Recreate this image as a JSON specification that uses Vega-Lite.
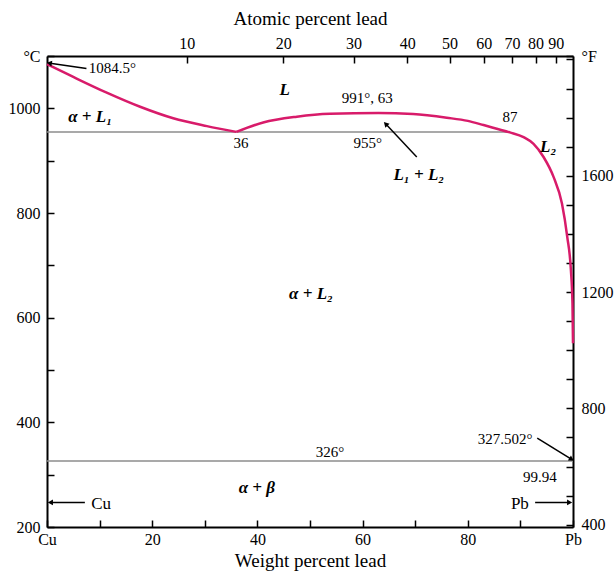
{
  "$schema": "https://vega.github.io/schema/vega-lite/v6.json",
  "width": 526,
  "height": 471,
  "autosize": {"type": "none"},
  "padding": {"left": 47, "top": 56, "right": 41, "bottom": 48},
  "background": "white",
  "config": {
    "view": {"stroke": null},
    "font": "Liberation Serif",
    "axis": {
      "labelFont": "Liberation Serif",
      "titleFont": "Liberation Serif",
      "labelColor": "black",
      "titleColor": "black",
      "domainColor": "black",
      "tickColor": "black",
      "grid": false,
      "labelFontSize": 16,
      "titleFontSize": 19,
      "titleFontWeight": "normal",
      "domainWidth": 2,
      "tickWidth": 1.5,
      "tickSize": -7,
      "labelFlush": false,
      "labelOverlap": false,
      "labelBound": false,
      "format": "d"
    }
  },
  "datasets": {
    "curve": [
      {"seg": "A", "x": 0, "y": 1084.5},
      {"seg": "A", "x": 5, "y": 1060},
      {"seg": "A", "x": 11.35, "y": 1030},
      {"seg": "A", "x": 17.7, "y": 1003},
      {"seg": "A", "x": 24, "y": 981},
      {"seg": "A", "x": 30.4, "y": 966},
      {"seg": "A", "x": 36, "y": 955},
      {"seg": "B", "x": 36, "y": 955},
      {"seg": "B", "x": 41.1, "y": 973},
      {"seg": "B", "x": 47.5, "y": 984},
      {"seg": "B", "x": 53.8, "y": 989.5},
      {"seg": "B", "x": 63, "y": 991},
      {"seg": "B", "x": 69.6, "y": 989},
      {"seg": "B", "x": 76, "y": 982},
      {"seg": "B", "x": 80, "y": 976},
      {"seg": "B", "x": 83, "y": 968},
      {"seg": "B", "x": 85.5, "y": 961},
      {"seg": "B", "x": 88, "y": 954},
      {"seg": "B", "x": 90.6, "y": 945},
      {"seg": "B", "x": 92.5, "y": 932},
      {"seg": "B", "x": 94.4, "y": 907},
      {"seg": "B", "x": 96.3, "y": 869},
      {"seg": "B", "x": 97.9, "y": 818},
      {"seg": "B", "x": 98.9, "y": 755},
      {"seg": "B", "x": 99.6, "y": 691},
      {"seg": "B", "x": 99.9, "y": 628},
      {"seg": "B", "x": 100, "y": 551}
    ],
    "hlines": [
      {"x": 0, "x2": 87.5, "y": 955},
      {"x": 0, "x2": 100, "y": 326}
    ],
    "arrows": [
      {"id": "a1", "end": "tail", "x": 7.5, "y": 1076},
      {"id": "a1", "end": "head", "x": 0.6, "y": 1086},
      {"id": "a2", "end": "tail", "x": 70.3, "y": 907},
      {"id": "a2", "end": "head", "x": 64.5, "y": 969},
      {"id": "a3", "end": "tail", "x": 93.2, "y": 370},
      {"id": "a3", "end": "head", "x": 99.6, "y": 330},
      {"id": "a4", "end": "tail", "x": 7.2, "y": 247},
      {"id": "a4", "end": "head", "x": 0.8, "y": 247},
      {"id": "a5", "end": "tail", "x": 92.8, "y": 247},
      {"id": "a5", "end": "head", "x": 99.2, "y": 247}
    ],
    "plain": [
      {"label": "1084.5°", "x": 12.45, "y": 1077},
      {"label": "991°, 63", "x": 60.9, "y": 1019},
      {"label": "87", "x": 88, "y": 984},
      {"label": "36", "x": 36.9, "y": 933},
      {"label": "955°", "x": 61, "y": 933},
      {"label": "326°", "x": 53.8, "y": 344},
      {"label": "327.502°", "x": 87.1, "y": 369},
      {"label": "99.94", "x": 93.7, "y": 296}
    ],
    "elements": [
      {"label": "Cu", "x": 10.3, "y": 244},
      {"label": "Pb", "x": 89.9, "y": 244}
    ],
    "italic": [
      {"label": "L", "x": 45.2, "y": 1035},
      {"label": "α + L₁", "x": 8.2, "y": 984},
      {"label": "L₁ + L₂", "x": 70.7, "y": 873},
      {"label": "L₂", "x": 95.3, "y": 927},
      {"label": "α + L₂", "x": 50.2, "y": 645},
      {"label": "α + β", "x": 39.9, "y": 275}
    ]
  },
  "layer": [
    {
      "encoding": {
        "x": {
          "field": "x",
          "type": "quantitative",
          "scale": {"domain": [0, 100], "nice": false, "zero": false},
          "axis": {
            "orient": "bottom",
            "title": "Weight percent lead",
            "values": [0, 10, 20, 30, 40, 50, 60, 70, 80, 90, 100],
            "labelExpr": "datum.value == 0 ? 'Cu' : datum.value == 100 ? 'Pb' : datum.value % 20 == 0 ? datum.label : ''",
            "labelPadding": 11,
            "titlePadding": 4
          }
        },
        "y": {
          "field": "y",
          "type": "quantitative",
          "scale": {"domain": [200, 1100], "nice": false, "zero": false},
          "axis": {
            "orient": "left",
            "title": null,
            "values": [200, 300, 400, 500, 600, 700, 800, 900, 1000, 1100],
            "labelExpr": "datum.value == 1100 ? '°C' : datum.value % 200 == 0 ? datum.label : ''",
            "labelPadding": 14
          }
        }
      },
      "layer": [
        {
          "data": {"name": "hlines"},
          "mark": {"type": "rule", "color": "#8c8c8c", "strokeWidth": 1.5},
          "encoding": {"x2": {"field": "x2"}}
        },
        {
          "data": {"name": "curve"},
          "mark": {"type": "line", "color": "#d81b6a", "strokeWidth": 2.5, "interpolate": "monotone"},
          "encoding": {"detail": {"field": "seg"}}
        },
        {
          "data": {"name": "arrows"},
          "mark": {"type": "line", "color": "black", "strokeWidth": 1.5},
          "encoding": {"detail": {"field": "id"}}
        },
        {
          "data": {"name": "arrows"},
          "transform": [{"filter": "datum.id == 'a1' && datum.end == 'head'"}],
          "mark": {"type": "point", "shape": "triangle", "filled": true, "color": "black", "opacity": 1, "size": 35, "angle": 279}
        },
        {
          "data": {"name": "arrows"},
          "transform": [{"filter": "datum.id == 'a2' && datum.end == 'head'"}],
          "mark": {"type": "point", "shape": "triangle", "filled": true, "color": "black", "opacity": 1, "size": 35, "angle": 316}
        },
        {
          "data": {"name": "arrows"},
          "transform": [{"filter": "datum.id == 'a3' && datum.end == 'head'"}],
          "mark": {"type": "point", "shape": "triangle", "filled": true, "color": "black", "opacity": 1, "size": 35, "angle": 121}
        },
        {
          "data": {"name": "arrows"},
          "transform": [{"filter": "datum.id == 'a4' && datum.end == 'head'"}],
          "mark": {"type": "point", "shape": "triangle", "filled": true, "color": "black", "opacity": 1, "size": 35, "angle": 270}
        },
        {
          "data": {"name": "arrows"},
          "transform": [{"filter": "datum.id == 'a5' && datum.end == 'head'"}],
          "mark": {"type": "point", "shape": "triangle", "filled": true, "color": "black", "opacity": 1, "size": 35, "angle": 90}
        },
        {
          "data": {"name": "plain"},
          "mark": {"type": "text", "fontSize": 15, "color": "black"},
          "encoding": {"text": {"field": "label"}}
        },
        {
          "data": {"name": "elements"},
          "mark": {"type": "text", "fontSize": 17, "color": "black"},
          "encoding": {"text": {"field": "label"}}
        },
        {
          "data": {"name": "italic"},
          "mark": {"type": "text", "fontSize": 17, "fontStyle": "italic", "fontWeight": "bold", "color": "black"},
          "encoding": {"text": {"field": "label"}}
        }
      ]
    },
    {
      "data": {"values": [{"w": 0, "f": 392}, {"w": 100, "f": 2012}]},
      "mark": {"type": "point", "opacity": 0},
      "encoding": {
        "x": {
          "field": "w",
          "type": "quantitative",
          "scale": {"domain": [0, 100], "nice": false, "zero": false},
          "axis": {
            "orient": "top",
            "title": "Atomic percent lead",
            "values": [26.59, 44.91, 58.29, 68.49, 76.53, 83.02, 88.38, 92.88, 96.70],
            "labelExpr": "format(round(100 * (datum.value / 207.2) / (datum.value / 207.2 + (100 - datum.value) / 63.546)), 'd')",
            "labelPadding": 12,
            "titlePadding": 7
          }
        },
        "y": {
          "field": "f",
          "type": "quantitative",
          "scale": {"domain": [392, 2012], "nice": false, "zero": false},
          "axis": {
            "orient": "right",
            "title": null,
            "values": [400, 500, 600, 700, 800, 900, 1000, 1100, 1200, 1300, 1400, 1500, 1600, 1700, 1800, 1900, 2000, 2012],
            "labelExpr": "datum.value == 2012 ? '°F' : datum.value < 2000 && datum.value % 400 == 0 ? datum.label : ''",
            "labelPadding": 15
          }
        }
      }
    }
  ],
  "resolve": {"scale": {"x": "independent", "y": "independent"}}
}
